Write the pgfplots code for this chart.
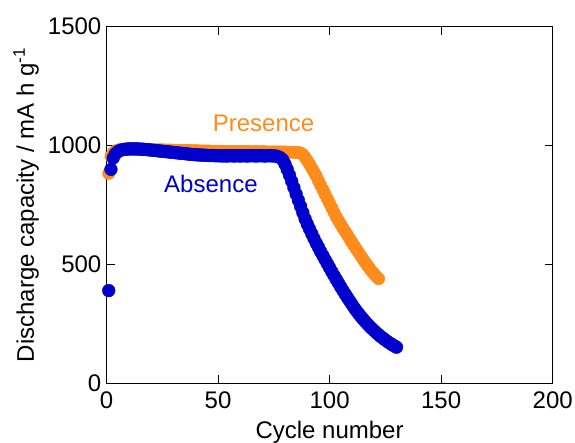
\documentclass[border=0pt]{standalone}
\usepackage{pgfplots}
\pgfplotsset{compat=1.18}
\usepackage{fontspec}
\setmainfont{Liberation Sans}
\definecolor{pres}{RGB}{255,140,26}
\definecolor{abs}{RGB}{0,0,204}
\begin{document}
\begin{tikzpicture}
\useasboundingbox (-106.5pt,-59.7pt) rectangle (468.5pt,383.3pt);
\begin{axis}[
  at={(0pt,0pt)}, anchor=south west,
  scale only axis, width=446.2pt, height=356.6pt,
  xmin=0, xmax=200, ymin=0, ymax=1500,
  xtick={0,50,100,150,200}, ytick={0,500,1000,1500},
  tick align=inside, major tick length=8pt,
  axis line style={line width=0.9pt}, every tick/.style={line width=0.9pt, black},
  scaled ticks=false,
  /pgf/number format/1000 sep={},
  /pgf/number format/assume math mode=true,
  tick label style={font=\fontsize{24}{28}\selectfont},
  xticklabel style={anchor=north, inner sep=0pt, yshift=-8.4pt},
  yticklabel style={anchor=east, inner sep=0pt, xshift=-5pt},
  label style={font=\fontsize{24}{28}\selectfont},
  xlabel={Cycle number},
  xlabel style={at={(axis description cs:0.5,-0.106)}, anchor=north, inner sep=0pt},
  ylabel={Discharge capacity / mA h g\textsuperscript{-1}},
  ylabel style={at={(axis description cs:-0.2095,0.5)}, anchor=north, inner sep=0pt},
]
\addplot[only marks, mark=*, mark size=6.2pt, color=pres] table {
x y
1 883
2 955
3 970
4 977
5 981
6 983
7 984
8 985
9 985
10 985
11 985
12 985
13 985
14 984
15 984
16 984
17 984
18 983
19 983
20 983
21 983
22 982
23 982
24 982
25 982
26 981
27 981
28 981
29 981
30 980
31 980
32 980
33 980
34 979
35 979
36 979
37 979
38 978
39 978
40 978
41 978
42 977
43 977
44 977
45 977
46 977
47 976
48 976
49 976
50 976
51 976
52 976
53 975
54 975
55 975
56 975
57 975
58 975
59 975
60 975
61 975
62 974
63 974
64 974
65 974
66 974
67 974
68 974
69 974
70 974
71 974
72 973
73 973
74 973
75 973
76 973
77 973
78 973
79 973
80 973
81 972
82 972
83 972
84 972
85 971
86 971
87 968
88 962
89 951
90 937
91 921
92 905
93 889
94 872
95 852
96 833
97 814
98 795
99 776
100 757
101 738
102 719
103 700
104 684
105 668
106 653
107 638
108 623
109 608
110 593
111 578
112 564
113 550
114 536
115 522
116 508
117 495
118 482
119 470
120 459
121 449
122 440
};
\addplot[only marks, mark=*, mark size=6.4pt, color=abs] table {
x y
1 390
2 900
3 948
4 965
5 974
6 979
7 982
8 984
9 985
10 986
11 986
12 986
13 986
14 986
15 985
16 985
17 984
18 983
19 982
20 981
21 980
22 979
23 978
24 977
25 976
26 975
27 974
28 973
29 972
30 971
31 970
32 969
33 968
34 967
35 966
36 965
37 964
38 963
39 962
40 961
41 961
42 960
43 960
44 959
45 959
46 958
47 958
48 958
49 957
50 957
51 957
52 956
53 957
54 956
55 957
56 957
57 956
58 957
59 957
60 956
61 957
62 957
63 956
64 957
65 957
66 957
67 956
68 957
69 957
70 957
71 956
72 957
73 957
74 957
75 956
76 956
77 953
78 948
79 940
80 922
81 900
82 876
83 850
84 823
85 796
86 770
87 744
88 718
89 692
90 670
91 649
92 629
93 609
94 590
95 572
96 554
97 537
98 520
99 503
100 486
101 469
102 453
103 437
104 421
105 405
106 390
107 375
108 360
109 346
110 332
111 318
112 305
113 293
114 281
115 270
116 259
117 249
118 239
119 230
120 221
121 212
122 204
123 196
124 189
125 182
126 175
127 169
128 163
129 157
130 152
};
\node[anchor=base, inner sep=0pt, text=pres, font=\fontsize{24}{28}\selectfont] at (axis cs:70.4,1059) {Presence};
\node[anchor=base, inner sep=0pt, text=abs, font=\fontsize{24}{28}\selectfont] at (axis cs:46.8,802) {Absence};
\end{axis}
\end{tikzpicture}
\end{document}
